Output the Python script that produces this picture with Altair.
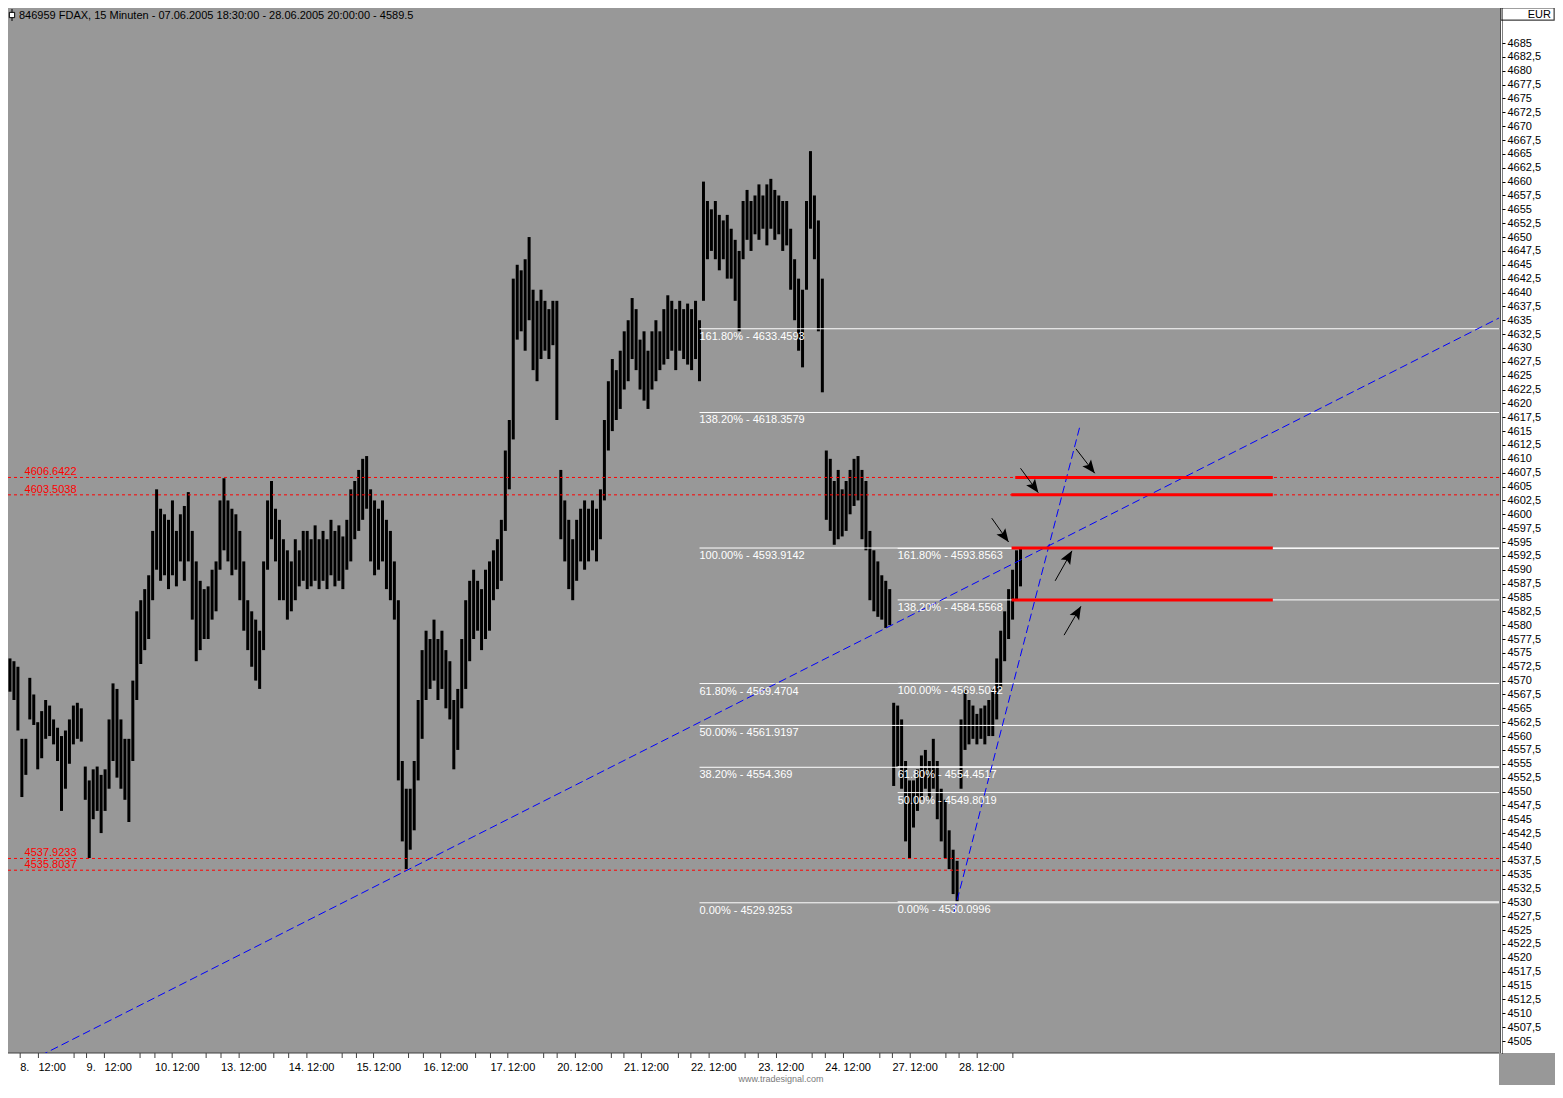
import altair as alt
import pandas as pd

FONT = "Liberation Sans"
BG = "#989898"

TITLE = "846959  FDAX, 15 Minuten - 07.06.2005 18:30:00 - 28.06.2005 20:00:00 - 4589.5"
CREDIT = "www.tradesignal.com"
CURRENCY = "EUR"

# ---- price bars (time slot position, high, low) ----
BAR_T = list(range(2, 1023, 4))
BAR_HIGH = [
    4574, 4573.5, 4572.5, 4559.5, 4559.5, 4570.5, 4567.5, 4562.5, 4564.5, 4566.5, 4565.5, 4563, 4561.5, 4560, 4561, 4563,
    4565.5, 4566, 4565, 4554.5, 4552, 4554, 4554.5, 4553, 4554, 4563, 4569.5, 4568.5, 4563, 4559.5, 4559.5, 4570,
    4582.5, 4584.5, 4586.5, 4589, 4597, 4604.5, 4601, 4600, 4599, 4602.5, 4597, 4600, 4601.5, 4604, 4597, 4591.5,
    4588, 4586.5, 4587, 4590, 4591.5, 4602.5, 4606.5, 4602.5, 4601, 4600, 4597, 4591.5, 4584.5, 4582.5, 4581, 4579,
    4591.5, 4602.5, 4606, 4601, 4599, 4595.5, 4593.5, 4591.5, 4595.5, 4593.5, 4597, 4597, 4595.5, 4598, 4595.5, 4597,
    4595.5, 4599, 4597, 4598, 4596, 4599, 4604.5, 4606, 4608, 4610, 4610.5, 4604.5, 4602.5, 4601, 4602.5, 4599,
    4597, 4591.5, 4584.5, 4555.5, 4550.5, 4550.5, 4555.5, 4566.5, 4575.5, 4579, 4577.5, 4581, 4577.5, 4579, 4575.5, 4573.5,
    4566.5, 4568.5, 4577.5, 4584.5, 4588, 4590, 4588, 4586.5, 4590, 4591.5, 4593.5, 4595.5, 4599, 4611.5, 4617, 4642.5,
    4645, 4644, 4646, 4650, 4640.5, 4638.5, 4640.5, 4638.5, 4637, 4638.5, 4638.5, 4608, 4602.5, 4599, 4595.5, 4599,
    4601, 4602.5, 4601, 4602.5, 4601, 4604.5, 4617, 4624, 4628, 4626, 4629.5, 4633, 4635, 4639, 4637, 4631.5,
    4633, 4629.5, 4633, 4635, 4633, 4637, 4639.5, 4638.5, 4637, 4638.5, 4637, 4638, 4637, 4638.5, 4635, 4660,
    4656.5, 4655, 4656.5, 4654, 4653, 4654, 4651.5, 4649.5, 4647.5, 4656.5, 4658.5, 4656.5, 4657.5, 4659.5, 4657.5, 4659.5,
    4660.5, 4658.5, 4657.5, 4656.5, 4656.5, 4651.5, 4646, 4642.5, 4640.5, 4656.5, 4665.5, 4657.5, 4653, 4642.5, 4611.5, 4610,
    4606, 4608, 4604.5, 4606, 4608, 4610, 4610.5, 4608, 4606, 4597, 4593.5, 4591.5, 4589, 4588, 4586.5, 4566,
    4565.5, 4563, 4555.5, 4552, 4552, 4554, 4556.5, 4557.5, 4555.5, 4559.5, 4555.5, 4550.5, 4548.5, 4543, 4539.5, 4537.5,
    4563, 4568.5, 4566.5, 4565.5, 4564, 4565, 4565.5, 4566.5, 4568.5, 4574, 4579, 4582.5, 4586.5, 4590, 4593.5, 4593.9,
]
BAR_LOW = [
    4568, 4566.5, 4561, 4549, 4553, 4563, 4562, 4554, 4556, 4559.5, 4560, 4558.5, 4555.5, 4546.5, 4550.5, 4555,
    4558.5, 4559.5, 4559, 4548.5, 4538, 4545, 4546.5, 4542.5, 4546.5, 4550.5, 4555.5, 4552.5, 4550.5, 4548.5, 4544.5, 4555.5,
    4566.5, 4573, 4575.5, 4577.5, 4584.5, 4590, 4588, 4589, 4586.5, 4589, 4587, 4591.5, 4588, 4591.5, 4581, 4573.5,
    4575.5, 4577.5, 4577.5, 4581, 4582.5, 4590, 4593.5, 4591.5, 4589, 4590, 4584.5, 4579, 4575.5, 4572.5, 4570, 4568.5,
    4575.5, 4590, 4595.5, 4591.5, 4584.5, 4584.5, 4581, 4582.5, 4584.5, 4587, 4588, 4586.5, 4587, 4588, 4586.5, 4588,
    4586.5, 4589, 4587, 4588, 4586.5, 4590, 4591.5, 4595.5, 4597, 4599, 4601, 4591.5, 4589, 4590, 4591.5, 4586.5,
    4584.5, 4581, 4552, 4541, 4536, 4539.5, 4543, 4552, 4559.5, 4566.5, 4568.5, 4570, 4566.5, 4568.5, 4565, 4563,
    4554, 4557.5, 4565, 4568.5, 4573.5, 4577.5, 4579, 4575.5, 4577.5, 4579, 4584.5, 4586.5, 4588, 4597, 4604.5, 4613.5,
    4631.5, 4633, 4629.5, 4635, 4626, 4624, 4628, 4629.5, 4628, 4630.5, 4617, 4595.5, 4591.5, 4586.5, 4584.5, 4588,
    4591.5, 4590, 4591.5, 4593.5, 4591.5, 4595.5, 4602.5, 4611.5, 4615, 4617, 4619, 4622.5, 4624, 4628, 4626, 4622.5,
    4620.5, 4619, 4622.5, 4624, 4626, 4627, 4628, 4629.5, 4626, 4629.5, 4628, 4627, 4626, 4628, 4624, 4638.5,
    4646, 4647.5, 4646, 4644, 4646, 4642.5, 4642.5, 4638.5, 4633, 4646, 4649.5, 4647.5, 4650.5, 4649.5, 4651.5, 4648.5,
    4651.5, 4649.5, 4650.5, 4647.5, 4648.5, 4640.5, 4635, 4629.5, 4626.5, 4640.5, 4651.5, 4646, 4633, 4622, 4599, 4597,
    4594.5, 4595.5, 4596, 4597, 4600, 4601.5, 4602.5, 4595.5, 4593.5, 4584.5, 4582.5, 4581.5, 4581, 4579.5, 4580, 4551,
    4554.5, 4550.5, 4541, 4538, 4543.5, 4546.5, 4548.5, 4550.5, 4548.5, 4550.5, 4545, 4541, 4538, 4536, 4531.5, 4530.1,
    4550.5, 4557.5, 4558.5, 4559.5, 4558.5, 4559.5, 4558.5, 4560, 4560, 4563, 4568.5, 4573.5, 4577.5, 4581, 4584.5, 4587,
]

# ---- Fibonacci sets ----
FIB1_PCT = ["161.80%", "138.20%", "100.00%", "61.80%", "50.00%", "38.20%", "0.00%"]
FIB1_VAL = [4633.4593, 4618.3579, 4593.9142, 4569.4704, 4561.9197, 4554.369, 4529.9253]
FIB1_START = 698
FIB2_PCT = ["161.80%", "138.20%", "100.00%", "61.80%", "50.00%", "0.00%"]
FIB2_VAL = [4593.8563, 4584.5568, 4569.5042, 4554.4517, 4549.8019, 4530.0996]
FIB2_START = 898
FIB_END = 1505

# ---- red dashed levels ----
LEVELS = [4606.6422, 4603.5038, 4537.9233, 4535.8037]
LEVEL_LABEL_T = 16.7

# ---- red solid segments ----
SEG_T0 = [1016.7, 1012.7, 1013, 1013]
SEG_T1 = [1276.7, 1276.7, 1276.7, 1276.7]
SEG_P = [4606.6422, 4603.5038, 4593.9142, 4584.5568]

# ---- blue trend lines ----
TREND_T0 = [0, 955]
TREND_P0 = [4499.4, 4528.3]
TREND_T1 = [1505, 1082]
TREND_P1 = [4635.4, 4615.9]

# ---- arrows ----
ARROW_T0 = [1022, 1078, 993, 1057, 1066]
ARROW_P0 = [4608.3, 4611.8, 4599.3, 4588.0, 4578.2]
ARROW_T1 = [1040, 1097, 1010, 1074, 1083]
ARROW_P1 = [4603.9, 4607.4, 4595.0, 4593.4, 4583.4]
ARROW_ANGLE = [144, 142, 144, 30, 30]
ARROW_PATH = "M0,0 L-1,2.4 L0,1.9 L1,2.4 Z"

# ---- time axis ----
DAY_T = [12.3, 79.3, 148.3, 215, 283.3, 351.7, 419.3, 487, 554.3, 621.7, 689.3, 757.3, 825, 892.7, 960]
DAY_LABELS = ["8.", "9.", "10.", "13.", "14.", "15.", "16.", "17.", "20.", "21.", "22.", "23.", "24.", "27.", "28."]
NOON_T = [30.7, 97.3, 165.7, 233.3, 301.7, 369, 436.7, 504.5, 572.7, 639.3, 707.7, 775.7, 843.3, 910.7, 978.3]
EXTRA_T = [66.7, 133.3, 200, 268.3, 337.3, 404.3, 472, 540.7, 609, 676.7, 744, 811.7, 880, 946.7, 1014.3]
Y_TICKS = [4505 + 2.5 * i for i in range(73)]

W, H = 1491, 1045
RP = 56   # right panel width
BP = 32   # bottom panel height
XS = alt.Scale(domain=[0, 1505], nice=False, zero=False)
YS = alt.Scale(domain=[4502.836, 4691.313], nice=False, zero=False)
YAX = alt.Axis(
    orient="right", values=Y_TICKS,
    labelExpr="datum.value % 1 == 0 ? format(datum.value, 'd') : replace(format(datum.value, '.1f'), '.', ',')",
    offset=3, domainColor="black", domainDash=[1, 1], tickColor="black", tickSize=3,
    labelColor="black", labelFont=FONT, labelFontSize=11, labelPadding=2, grid=False,
    title=None, zindex=1, labelOverlap=False,
)


def X(f):
    return alt.X(f, scale=XS, axis=None)


def Y(f):
    return alt.Y(f, scale=YS, axis=YAX)


one = pd.DataFrame({"k": [0]})

bottom_panel = alt.Chart(one).mark_rect(color="white").encode(
    x=alt.value(0), x2=alt.value(W), y=alt.value(H), y2=alt.value(H + BP))
bottom_line = alt.Chart(one).mark_rule(color="#404040").encode(
    x=alt.value(0), x2=alt.value(W), y=alt.value(H))
right_panel = alt.Chart(one).mark_rect(color="white").encode(
    x=alt.value(W + 2), x2=alt.value(W + RP), y=alt.value(13), y2=alt.value(H))
right_edge = alt.Chart(one).mark_rule(color="#505050").encode(
    x=alt.value(W + 1.5), y=alt.value(0), y2=alt.value(H))
eur_box = alt.Chart(one).mark_rect(fill="white", stroke="#404040", strokeWidth=1).encode(
    x=alt.value(W + 2), x2=alt.value(W + RP - 1), y=alt.value(0), y2=alt.value(12))
eur_text = alt.Chart(one).mark_text(text=CURRENCY, align="right", baseline="middle",
                                    font=FONT, fontSize=11, color="black").encode(
    x=alt.value(W + RP - 4), y=alt.value(6.5))

bars_df = pd.DataFrame({"t": BAR_T, "high": BAR_HIGH, "low": BAR_LOW})
bars = alt.Chart(bars_df).mark_rule(color="black", strokeWidth=3).encode(
    x=X("t:Q"), y=Y("low:Q"), y2="high:Q")

fib_rows = []
for pct, v in zip(FIB1_PCT, FIB1_VAL):
    fib_rows.append({"t0": FIB1_START, "t1": FIB_END, "p": v, "label": f"{pct} - {v}"})
for pct, v in zip(FIB2_PCT, FIB2_VAL):
    fib_rows.append({"t0": FIB2_START, "t1": FIB_END, "p": v, "label": f"{pct} - {v}"})
fib_df = pd.DataFrame(fib_rows)
fib_lines = alt.Chart(fib_df).mark_rule(color="white", strokeWidth=1).encode(
    x=X("t0:Q"), x2="t1:Q", y=Y("p:Q"))
fib_text = alt.Chart(fib_df).mark_text(color="white", align="left", baseline="top", dy=2,
                                       font=FONT, fontSize=11).encode(
    x=X("t0:Q"), y=Y("p:Q"), text="label:N")

lvl_df = pd.DataFrame({"t0": [0] * len(LEVELS), "t1": [1505] * len(LEVELS), "p": LEVELS,
                       "tl": [LEVEL_LABEL_T] * len(LEVELS), "label": [str(v) for v in LEVELS]})
lvl_lines = alt.Chart(lvl_df).mark_rule(color="#ff0000", strokeWidth=1, strokeDash=[3, 3]).encode(
    x=X("t0:Q"), x2="t1:Q", y=Y("p:Q"))
lvl_text = alt.Chart(lvl_df).mark_text(color="#ff0000", align="left", baseline="alphabetic", dy=-2,
                                       font=FONT, fontSize=11).encode(
    x=X("tl:Q"), y=Y("p:Q"), text="label:N")

trend_df = pd.DataFrame({"t0": TREND_T0, "p0": TREND_P0, "t1": TREND_T1, "p1": TREND_P1})
trends = alt.Chart(trend_df).mark_rule(color="#0000ff", strokeWidth=1, strokeDash=[8, 4], clip=True).encode(
    x=X("t0:Q"), x2="t1:Q", y=Y("p0:Q"), y2="p1:Q")

seg_df = pd.DataFrame({"t0": SEG_T0, "t1": SEG_T1, "p": SEG_P})
segs = alt.Chart(seg_df).mark_rule(color="#ff0000", strokeWidth=3).encode(
    x=X("t0:Q"), x2="t1:Q", y=Y("p:Q"))

arr_df = pd.DataFrame({"t0": ARROW_T0, "p0": ARROW_P0, "t1": ARROW_T1, "p1": ARROW_P1, "ang": ARROW_ANGLE})
arr_shaft = alt.Chart(arr_df).mark_rule(color="black", strokeWidth=1).encode(
    x=X("t0:Q"), x2="t1:Q", y=Y("p0:Q"), y2="p1:Q")
arr_head = alt.Chart(arr_df).mark_point(shape=ARROW_PATH, size=120, filled=True, color="black", opacity=1).encode(
    x=X("t1:Q"), y=Y("p1:Q"), angle=alt.Angle("ang:Q", scale=None))

tick_df = pd.DataFrame({"t": DAY_T + NOON_T + EXTRA_T})
xticks = alt.Chart(tick_df).mark_rule(color="#404040").encode(
    x=X("t:Q"), y=alt.value(H), y2=alt.value(H + 5))
lab_df = pd.DataFrame({"t": DAY_T + NOON_T, "label": DAY_LABELS + ["12:00"] * len(NOON_T)})
xlabels = alt.Chart(lab_df).mark_text(align="left", baseline="middle", font=FONT, fontSize=11,
                                      color="black").encode(
    x=X("t:Q"), y=alt.value(H + 15), text="label:N")

title_stem = alt.Chart(one).mark_rule(color="black").encode(
    x=alt.value(4), y=alt.value(1), y2=alt.value(13))
title_icon = alt.Chart(one).mark_point(shape="square", size=28, fill="white", stroke="black",
                                       strokeWidth=1, opacity=1).encode(x=alt.value(4), y=alt.value(7))
title = alt.Chart(one).mark_text(text=TITLE, align="left", baseline="middle", font=FONT, fontSize=11,
                                 color="black").encode(x=alt.value(11), y=alt.value(7.5))
credit = alt.Chart(one).mark_text(text=CREDIT, align="center", baseline="middle", font=FONT, fontSize=9,
                                  color="#7a7a7a").encode(x=alt.value(773), y=alt.value(H + 26))

chart = alt.layer(
    bottom_panel, bottom_line, right_panel, right_edge, eur_box, eur_text,
    bars, fib_lines, lvl_lines, trends, segs, fib_text, lvl_text,
    arr_shaft, arr_head, xticks, xlabels, title_stem, title_icon, title, credit,
).properties(
    width=W, height=H, background=BG,
    padding={"left": 0, "top": 0, "right": RP, "bottom": BP},
    autosize=alt.AutoSizeParams(type="none"),
).configure_view(strokeWidth=0, fill=BG)

chart.save("out.html", embed_options={"renderer": "svg", "actions": False})
